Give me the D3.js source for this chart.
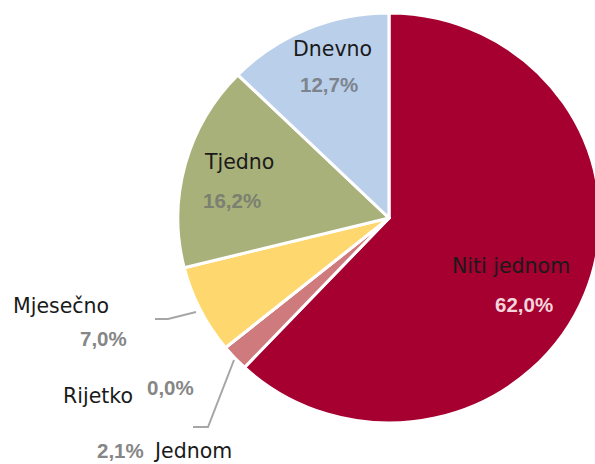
<!DOCTYPE html>
<html>
<head>
<meta charset="utf-8">
<script src="https://cdn.jsdelivr.net/npm/d3@7"></script>
<style>
  body { margin: 0; background: #fff; }
  .name { font-family: "DejaVu Sans", Verdana, sans-serif; font-size: 20.5px; fill: #1a1a1a; }
  .pct { font-family: "Liberation Sans", Arial, sans-serif; font-weight: bold; font-size: 20.5px; fill: #868686; }
</style>
</head>
<body>
<div id="chart"></div>
<script>
// Data (clockwise from 12 o'clock).
var categories = ["Niti jednom", "Jednom", "Rijetko", "Mjesečno", "Tjedno", "Dnevno"];
var values = [62.0, 2.1, 0.0, 7.0, 16.2, 12.7];
var pctLabels = ["62,0%", "2,1%", "0,0%", "7,0%", "16,2%", "12,7%"];

var colors = ["#a50030", "#cf7b7e", "#d9d9d9", "#fed86f", "#a9b17b", "#bacfea"];

var width = 595, height = 464;
var cx = 389, cy = 218, radius = 205;

// Label placement: name then percentage below it (x = left edge, y = baseline).
var labelPos = {
  "Niti jednom": { name: [452, 273], pct: [495, 312], pctFill: "#f3d4db" },
  "Jednom":      { name: [155, 458], pct: [97, 458] },
  "Rijetko":     { name: [63, 403], pct: [147, 395] },
  "Mjesečno":    { name: [13, 313], pct: [80, 346] },
  "Tjedno":      { name: [205, 169], pct: [203, 208], pctFill: "#7b8070" },
  "Dnevno":      { name: [293, 56], pct: [300, 92], pctFill: "#7d848d" }
};

// Leader lines for the small slices.
var leaders = [
  [[196, 312], [168, 319], [155, 319]],
  [[234, 360], [208, 427], [193, 427]]
];

var svg = d3.select("#chart").append("svg")
    .attr("width", width)
    .attr("height", height);

var pie = d3.pie().sort(null).value(function(d) { return d; });
var arc = d3.arc().innerRadius(0).outerRadius(radius);
var arcs = pie(values);

var g = svg.append("g")
    .attr("transform", "translate(" + cx + "," + cy + ") scale(1.03,1)");

g.selectAll("path")
    .data(arcs)
  .enter().append("path")
    .attr("d", arc)
    .attr("fill", function(d, i) { return colors[i]; })
    .attr("stroke", "#fff")
    .attr("stroke-width", 3)
    .attr("stroke-linejoin", "round");

var line = d3.line();
svg.selectAll(".leader")
    .data(leaders)
  .enter().append("path")
    .attr("class", "leader")
    .attr("d", line)
    .attr("fill", "none")
    .attr("stroke", "#a6a6a6")
    .attr("stroke-width", 2);

categories.forEach(function(c, i) {
  var p = labelPos[c];
  svg.append("text")
      .attr("class", "name")
      .attr("x", p.name[0])
      .attr("y", p.name[1])
      .text(c);
  svg.append("text")
      .attr("class", "pct")
      .attr("x", p.pct[0])
      .attr("y", p.pct[1])
      .style("fill", p.pctFill || null)
      .text(pctLabels[i]);
});
</script>
</body>
</html>
